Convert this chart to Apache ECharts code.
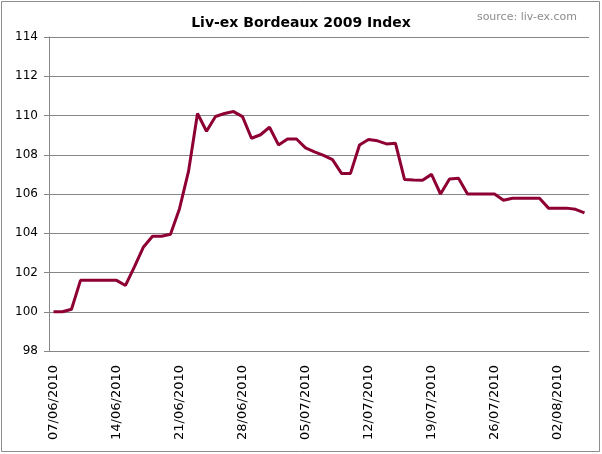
<!DOCTYPE html>
<html>
<head>
<meta charset="utf-8">
<script src="https://cdn.jsdelivr.net/npm/echarts@6/dist/echarts.min.js"></script>
<style>
  body { margin: 0; background: #fff; }
  #chart { width: 602px; height: 454px; }
</style>
</head>
<body>
<div id="chart"></div>
<script>
// daily index values from 07/06/2010
const startDate = new Date(2010, 5, 7);
const indexValues = [
    100.0, 100.0, 100.13, 101.6, 101.6, 101.6, 101.6, 101.6, 101.34, 102.3,
    103.3, 103.85, 103.85, 103.95, 105.25, 107.15, 110.1, 109.2, 109.95, 110.1,
    110.2, 109.94, 108.84, 109.02, 109.4, 108.5, 108.8, 108.8, 108.35, 108.15,
    107.97, 107.75, 107.05, 107.05, 108.5, 108.78, 108.71, 108.55, 108.58, 106.74,
    106.71, 106.7, 107.0, 106.0, 106.76, 106.8, 106.0, 106.0, 106.0, 106.0,
    105.68, 105.78, 105.78, 105.78, 105.78, 105.28, 105.28, 105.28, 105.22, 105.04
];
const yTicks = { min: 98, max: 114, step: 2 };

const pad = n => (n < 10 ? '0' : '') + n;
const dates = indexValues.map((v, i) => {
    const d = new Date(startDate.getTime());
    d.setDate(d.getDate() + i);
    return pad(d.getDate()) + '/' + pad(d.getMonth() + 1) + '/' + d.getFullYear();
});

const myChart = echarts.init(document.getElementById('chart'));
const font = 'DejaVu Sans, Verdana, sans-serif';

myChart.setOption({
    animation: false,
    title: [
        {
            text: 'Liv-ex Bordeaux 2009 Index',
            left: 'center',
            top: 11,
            textStyle: { fontFamily: font, fontSize: 14, fontWeight: 'bold', color: '#000' }
        },
        {
            text: 'source: liv-ex.com',
            right: 20,
            top: 7,
            textStyle: { fontFamily: font, fontSize: 11, fontWeight: 'normal', color: '#8c8c8c' }
        }
    ],
    graphic: [
        {
            type: 'rect',
            shape: { x: 1.5, y: 1.5, width: 598, height: 450 },
            style: { fill: 'none', stroke: '#8c8c8c', lineWidth: 1 },
            silent: true
        }
    ],
    grid: { left: 49, right: 13, top: 37, bottom: 103 },
    xAxis: {
        type: 'category',
        data: dates,
        boundaryGap: true,
        axisLine: { lineStyle: { color: '#868686', width: 1 } },
        axisTick: { interval: 6, length: 5, lineStyle: { color: '#868686' } },
        axisLabel: {
            interval: 6,
            rotate: 90,
            margin: 14,
            color: '#000',
            fontFamily: font,
            fontSize: 13
        },
        splitLine: { show: false }
    },
    yAxis: {
        type: 'value',
        min: yTicks.min,
        max: yTicks.max,
        interval: yTicks.step,
        axisLine: { show: true, lineStyle: { color: '#868686', width: 1 } },
        axisTick: { show: true, length: 5, lineStyle: { color: '#868686' } },
        axisLabel: { margin: 11, color: '#000', fontFamily: font, fontSize: 12 },
        splitLine: { lineStyle: { color: '#868686', width: 1 } }
    },
    series: [
        {
            name: 'Liv-ex Bordeaux 2009 Index',
            type: 'line',
            data: indexValues,
            symbol: 'none',
            lineStyle: { color: '#8e0033', width: 3 }
        }
    ]
});
</script>
</body>
</html>
